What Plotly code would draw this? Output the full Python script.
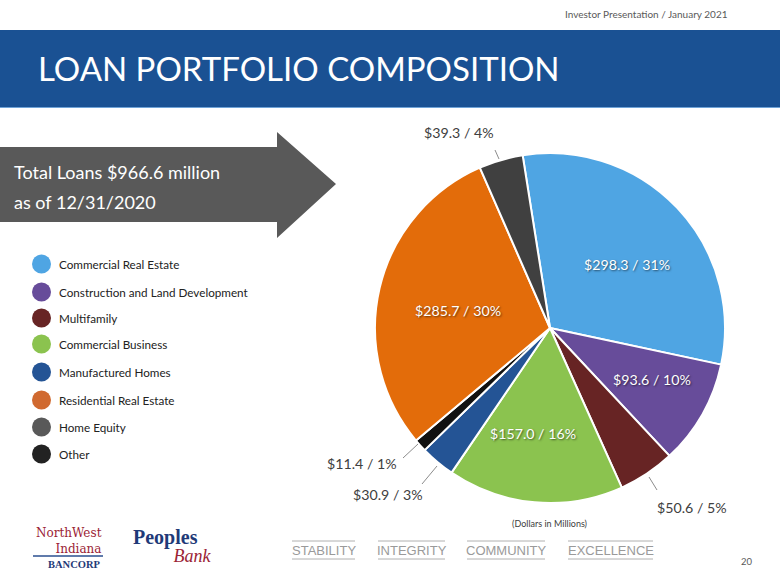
import plotly.graph_objects as go

# ---- data ----
categories = ["Commercial Real Estate", "Construction and Land Development", "Multifamily",
              "Commercial Business", "Manufactured Homes", "Other",
              "Residential Real Estate", "Home Equity"]
values = [298.3, 93.6, 50.6, 157.0, 30.9, 11.4, 285.7, 39.3]
slice_colors = ["#4FA5E3", "#674C9A", "#672424", "#8BC34F", "#245495", "#111111", "#E36C0A", "#404040"]

legend_labels = ["Commercial Real Estate", "Construction and Land Development", "Multifamily",
                 "Commercial Business", "Manufactured Homes", "Residential Real Estate",
                 "Home Equity", "Other"]
legend_colors = ["#4FA5E3", "#674C9A", "#672424", "#8BC34F", "#245495", "#D0692F", "#595959", "#222222"]

values_footer = ["STABILITY", "INTEGRITY", "COMMUNITY", "EXCELLENCE"]

total_loans = 966.6
W, H = 780, 585
FONT = "Lato"

def px(x):
    return x / W

def py(y):
    return 1 - y / H

total = sum(values)
pcts = [round(v / total * 100) for v in values]
labels_txt = [f"${v:.1f} / {p}%" for v, p in zip(values, pcts)]

fig = go.Figure()
fig.add_trace(go.Pie(
    labels=categories, values=values, sort=False, direction="clockwise", rotation=-9,
    marker=dict(colors=slice_colors, line=dict(color="white", width=2)),
    textinfo="none", hoverinfo="label+value+percent", showlegend=False,
    domain=dict(x=[px(375), px(725)], y=[py(503), py(153)]),
))

shapes = []
ann = []

# header band
shapes.append(dict(type="rect", xref="paper", yref="paper", x0=0, x1=1, y0=py(107), y1=py(30),
                   fillcolor="#1A5193", line=dict(width=0), layer="below"))
shapes.append(dict(type="line", xref="paper", yref="paper", x0=0, x1=1, y0=py(107.5), y1=py(107.5),
                   line=dict(color="#6FA3D8", width=1)))
ann.append(dict(text="Investor Presentation / January 2021", x=px(730), y=py(14), xanchor="right",
                yanchor="middle", showarrow=False, font=dict(family=FONT, size=10, color="#595959")))
ann.append(dict(text="LOAN PORTFOLIO COMPOSITION", x=px(36), y=py(68), xanchor="left", yanchor="middle",
                showarrow=False, font=dict(family=FONT, size=33, color="white")))

# arrow
arrow_path = (f"M {px(0)},{py(147)} L {px(277)},{py(147)} L {px(277)},{py(132)} L {px(336)},{py(184)} "
              f"L {px(277)},{py(238)} L {px(277)},{py(222)} L {px(0)},{py(222)} Z")
shapes.append(dict(type="path", xref="paper", yref="paper", path=arrow_path,
                   fillcolor="#595959", line=dict(width=0)))
ann.append(dict(text=f"Total Loans ${total_loans} million", x=px(12), y=py(172), xanchor="left",
                yanchor="middle", showarrow=False, font=dict(family=FONT, size=18, color="white")))
ann.append(dict(text="as of 12/31/2020", x=px(12), y=py(202), xanchor="left",
                yanchor="middle", showarrow=False, font=dict(family=FONT, size=18, color="white")))

# legend
leg_y = [264, 292, 318, 344, 372, 400, 427, 454]
for lab, col, y in zip(legend_labels, legend_colors, leg_y):
    shapes.append(dict(type="circle", xref="paper", yref="paper", x0=px(32), x1=px(51),
                       y0=py(y + 9.5), y1=py(y - 9.5), fillcolor=col, line=dict(width=0)))
    ann.append(dict(text=lab, x=px(57), y=py(y), xanchor="left", yanchor="middle", showarrow=False,
                    font=dict(family=FONT, size=11.7, color="#222222")))

# pie labels
inside_pos = {0: (627, 265), 1: (652, 379), 3: (533, 433), 6: (458, 310)}
outside_pos = {7: (459, 133), 5: (362, 463), 4: (388, 494), 2: (692, 507)}
leaders = {7: (495, 150, 499, 159), 5: (403, 458, 418, 444), 4: (422, 484, 437, 466), 2: (649, 477, 657, 490)}
for i, (x, y) in inside_pos.items():
    ann.append(dict(text=labels_txt[i], x=px(x), y=py(y), xanchor="center", yanchor="middle",
                    showarrow=False, font=dict(family=FONT, size=14.2, color="white",
                                               shadow="1px 1px 2px rgba(0,0,0,0.55)")))
for i, (x, y) in outside_pos.items():
    ann.append(dict(text=labels_txt[i], x=px(x), y=py(y), xanchor="center", yanchor="middle",
                    showarrow=False, font=dict(family=FONT, size=14.2, color="#404040")))
    x0, y0, x1, y1 = leaders[i]
    shapes.append(dict(type="line", xref="paper", yref="paper", x0=px(x0), y0=py(y0), x1=px(x1), y1=py(y1),
                       line=dict(color="#8C8C8C", width=1)))

ann.append(dict(text="(Dollars in Millions)", x=px(549), y=py(523), xanchor="center", yanchor="middle",
                showarrow=False, font=dict(family=FONT, size=9, color="#404040")))

# footer values
foot_x = [(292, 355), (378, 445), (467, 545), (568, 653)]
for t, (a, b) in zip(values_footer, foot_x):
    ann.append(dict(text=t, x=px((a + b) / 2), y=py(550), xanchor="center", yanchor="middle",
                    showarrow=False, font=dict(family="Liberation Sans", size=13, color="#9A9A9A")))
    for yy in (541, 559):
        shapes.append(dict(type="line", xref="paper", yref="paper", x0=px(a), x1=px(b), y0=py(yy), y1=py(yy),
                           line=dict(color="#B0B0B0", width=1)))
ann.append(dict(text="20", x=px(747), y=py(561), xanchor="center", yanchor="middle", showarrow=False,
                font=dict(family=FONT, size=9.5, color="#595959")))

# logos as text
ann.append(dict(text="NorthWest<br>Indiana", x=px(104), y=py(541), xanchor="right", yanchor="middle",
                align="right", showarrow=False,
                font=dict(family="DejaVu Serif", size=12, color="#9B2335")))
shapes.append(dict(type="line", xref="paper", yref="paper", x0=px(33), x1=px(103), y0=py(556), y1=py(556),
                   line=dict(color="#2B4F8F", width=1.5)))
ann.append(dict(text="<b>BANCORP</b>", x=px(103), y=py(564), xanchor="right", yanchor="middle", showarrow=False,
                font=dict(family="Liberation Serif", size=10.5, color="#1F3A78")))
ann.append(dict(text=("<span style='font-size:20px;color:#1F3A78'><b>Peoples</b></span><br>"
                      "<span style='font-size:18px;color:#9B2335'>" + "&nbsp;" * 9 + "<i>Bank</i></span>"),
                x=px(131), y=py(546), xanchor="left", yanchor="middle", align="left", showarrow=False,
                font=dict(family="Liberation Serif", size=14, color="#1F3A78")))

fig.update_layout(
    width=W, height=H, margin=dict(l=0, r=0, t=0, b=0),
    paper_bgcolor="white", plot_bgcolor="white",
    shapes=shapes, annotations=ann,
)

fig.write_html("out.html", config={"displayModeBar": False},
               post_script="document.body.style.margin='0';document.body.style.overflow='hidden';")
